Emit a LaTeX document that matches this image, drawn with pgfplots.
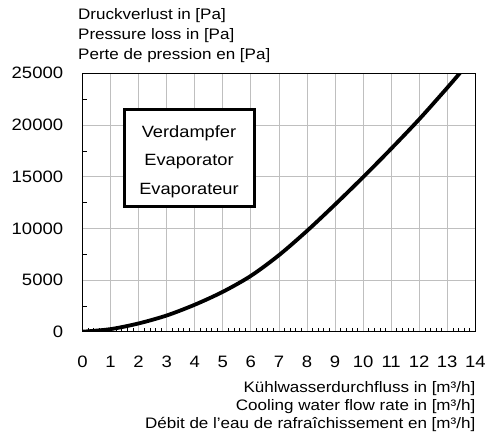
\documentclass[border=0pt]{standalone}
\usepackage{fontspec}
\setmainfont{Liberation Sans}[FakeStretch=1.12]
\usepackage{pgfplots}
\pgfplotsset{compat=1.18}
\begin{document}
\begin{tikzpicture}[x=1pt,y=1pt]
\begin{axis}[
  at={(82.5pt,105.3pt)}, anchor=south west,
  scale only axis, width=392.8pt, height=258.4pt,
  xmin=0, xmax=14, ymin=0, ymax=25000,
  xtick={0,1,...,14}, ytick={0,5000,...,25000},
  minor x tick num=4,
  minor ytick={2500,7500,12500,17500,22500},
  xtick pos=left, ytick pos=left,
  tick align=inside, major tick length=0pt, minor tick length=4pt,
  minor tick style={black, line width=0.6pt},
  grid=major, major grid style={gray!50, line width=0.8pt},
  axis line style={black, line width=0.8pt},
  scaled y ticks=false,
  /pgf/number format/assume math mode=true,
  /pgf/number format/set thousands separator={},
  tick label style={font=\fontsize{16.5}{19}\selectfont},
  xticklabel style={anchor=base, yshift=-35.6pt, inner sep=0pt},
  yticklabel style={anchor=east, inner sep=0pt, xshift=-19.2pt},
]
\addplot[black, line width=3.8pt, smooth] coordinates {
(0,0) (1,250) (2,800) (3,1570) (4,2610) (5,3860) (6,5400) (7,7400)
(8,9750) (9,12300) (10,14950) (11,17700) (12,20550) (13,23600) (13.6,25500)
};
\end{axis}
\draw[line width=3pt, fill=white] (124,230.3) rectangle (254,327);
\begin{scope}[every node/.style={font=\fontsize{16.3}{19}\selectfont, inner sep=0pt, anchor=base}]
\node at (189,299.6) {Verdampfer};
\node at (189,271.3) {Evaporator};
\node at (189,243) {Evaporateur};
\end{scope}
\begin{scope}[every node/.style={font=\fontsize{15.2}{17}\selectfont, inner sep=0pt}]
\node[anchor=base west] at (78,417) {Druckverlust in [Pa]};
\node[anchor=base west] at (78,397.5) {Pressure loss in [Pa]};
\node[anchor=base west] at (78,377.5) {Perte de pression en [Pa]};
\node[anchor=base east] at (475.5,45) {Kühlwasserdurchfluss in [m³/h]};
\node[anchor=base east] at (475.5,27) {Cooling water flow rate in [m³/h]};
\node[anchor=base east] at (475.5,9) {Débit de l’eau de rafraîchissement en [m³/h]};
\end{scope}
\pgfresetboundingbox
\useasboundingbox (0,0) rectangle (487,437);
\end{tikzpicture}
\end{document}
